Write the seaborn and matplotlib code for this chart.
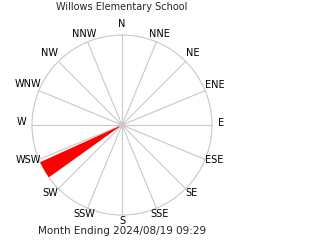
import numpy as np
import matplotlib
matplotlib.use("Agg")
import matplotlib.pyplot as plt
import seaborn as sns

title = "Willows Elementary School"
footer = "Month Ending 2024/08/19 09:29"
dir_labels = ["N", "NNE", "NE", "ENE", "E", "ESE", "SE", "SSE",
              "S", "SSW", "SW", "WSW", "W", "WNW", "NW", "NNW"]
bar_dirs = [240.0]      # degrees (compass)
bar_pct = [100.0]       # percent of max radius
bar_width_deg = 11.2

sns.set_style("white")
plt.rcParams['font.family'] = ['DejaVu Sans']

GRID = "#c8c8c8"
fig = plt.figure(figsize=(3.2, 2.4), dpi=100)
ax = fig.add_axes([0.1, 0.104, 0.5625, 0.75], projection="polar")
ax.set_theta_zero_location("N")
ax.set_theta_direction(-1)
ax.set_ylim(0, 100)
ax.set_xticks([])
ax.set_yticks([])
ax.grid(False)
ax.spines["polar"].set_color(GRID)
ax.spines["polar"].set_linewidth(0.8)

angles = np.deg2rad(np.arange(16) * 22.5)
for a in angles:
    ax.plot([a, a], [0, 100], color=GRID, lw=0.8, zorder=1)

ax.bar(np.deg2rad(bar_dirs), bar_pct, width=np.deg2rad(bar_width_deg),
       color="red", edgecolor="none", zorder=3, bottom=0)
ax.scatter([0], [0], s=22, color=GRID, edgecolor="none", zorder=4)

# label placement: (ha, dx_px, dy_px) relative to spoke end; dy positive = down, baseline aligned
place = {
    "N": ("center", 0, -8), "NNE": ("center", 2.6, -5), "NE": ("left", 0, -5.7),
    "ENE": ("left", 0, -3), "E": ("left", 6, 0.5), "ESE": ("left", 0, 4),
    "SE": ("left", 0, 7.5), "SSE": ("center", 3.6, 8.6), "S": ("center", 0, 9),
    "SSW": ("center", -3, 8.6), "SW": ("right", -0.7, 7.2), "WSW": ("right", 1.7, 4),
    "W": ("right", -5.3, 0.3), "WNW": ("right", 2.8, -3.3), "NW": ("right", 0, -5.7),
    "NNW": ("center", -3, -5),
}
k = 72.0 / 100.0
for a, lab in zip(angles, dir_labels):
    ha, dx, dy = place[lab]
    ax.annotate(lab, xy=(a, 100), xycoords="data",
                xytext=(dx * k, -dy * k), textcoords="offset points",
                ha=ha, va="baseline", fontsize=7, color="black",
                annotation_clip=False)

fig.text(122/320, 1 - 10/240, title, ha="center", va="baseline", fontsize=7)
fig.text(121.7/320, 1 - 234/240, footer, ha="center", va="baseline", fontsize=7.5)

fig.savefig("out.png", dpi=100)
